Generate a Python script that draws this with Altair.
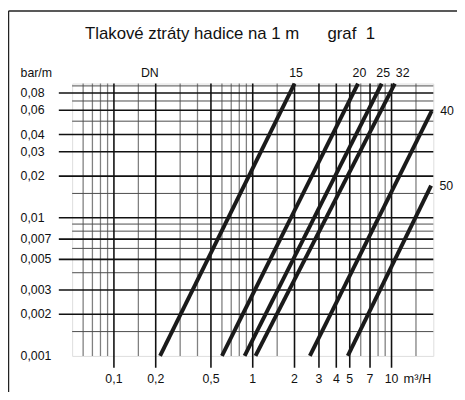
import altair as alt
import pandas as pd

# --- data ---
dn = ["15", "20", "25", "32", "40", "50"]
q_start = [0.215, 0.600, 0.874, 1.047, 2.58, 4.84]
q_end = [2.0, 5.73, 8.49, 10.56, 19.49, 19.27]
p_start = [0.001, 0.001, 0.001, 0.001, 0.001, 0.001]
p_end = [0.0936, 0.0936, 0.0936, 0.0936, 0.0594, 0.0171]

x_major = [0.1, 0.2, 0.5, 1, 2, 3, 4, 5, 7, 10]
x_minor = [0.06, 0.07, 0.08, 0.09, 0.15, 0.3, 0.4, 0.6, 0.7, 0.8, 0.9, 1.5, 6, 8, 9, 15]
y_labels = [0.001, 0.002, 0.003, 0.005, 0.007, 0.01, 0.02, 0.03, 0.04, 0.06, 0.08]
y_major = [0.002, 0.003, 0.005, 0.007, 0.01, 0.02, 0.03, 0.04, 0.06, 0.08]
y_minor = [0.0015, 0.004, 0.006, 0.008, 0.009, 0.015, 0.05, 0.07, 0.09]

W, H = 366, 276
FONT = "Liberation Sans"
INK = "#111111"

xs = alt.Scale(type="log", domain=[0.05, 20], nice=False)
ys = alt.Scale(type="log", domain=[0.001, 0.0936], nice=False)

rows = []
for i, d in enumerate(dn):
    rows.append({"dn": d, "q": q_start[i], "p": p_start[i], "o": 0})
    rows.append({"dn": d, "q": q_end[i], "p": p_end[i], "o": 1})
lines_df = pd.DataFrame(rows)
ends_df = pd.DataFrame({"dn": dn, "q": q_end, "p": p_end})
one = pd.DataFrame({"k": [0]})

lab_expr = "replace(format(datum.v, '~g'), '.', ',')"

xminor = alt.Chart(pd.DataFrame({"v": x_minor})).mark_rule(
    color="#808080", strokeWidth=1.3).encode(
    x=alt.X("v:Q", scale=xs, axis=None), y=alt.value(0), y2=alt.value(H))
yminor = alt.Chart(pd.DataFrame({"v": y_minor})).mark_rule(
    color="#4a4a4a", strokeWidth=1.0).encode(
    y=alt.Y("v:Q", scale=ys, axis=None), x=alt.value(0), x2=alt.value(W))
xmajor = alt.Chart(pd.DataFrame({"v": x_major})).mark_rule(
    color=INK, strokeWidth=1.6).encode(
    x=alt.X("v:Q", scale=xs, axis=None), y=alt.value(0), y2=alt.value(H + 12))
ymajor = alt.Chart(pd.DataFrame({"v": y_major})).mark_rule(
    color=INK, strokeWidth=1.6).encode(
    y=alt.Y("v:Q", scale=ys, axis=None), x=alt.value(-13.5), x2=alt.value(W))

xlab = alt.Chart(pd.DataFrame({"v": x_major})).transform_calculate(
    lab=lab_expr).mark_text(font=FONT, fontSize=12.5, color=INK,
                            align="center", baseline="middle").encode(
    x=alt.X("v:Q", scale=xs, axis=None), y=alt.value(H + 23.5), text="lab:N")
ylab = alt.Chart(pd.DataFrame({"v": y_labels})).transform_calculate(
    lab=lab_expr).mark_text(font=FONT, fontSize=12.5, color=INK,
                            align="left", baseline="middle").encode(
    y=alt.Y("v:Q", scale=ys, axis=None), x=alt.value(-52.3), text="lab:N")

curves = alt.Chart(lines_df).mark_line(color="#1a1a1a", strokeWidth=4, strokeCap="butt").encode(
    x=alt.X("q:Q", scale=xs, axis=None),
    y=alt.Y("p:Q", scale=ys, axis=None),
    detail="dn:N", order="o:Q")

def txt(s, x, y, size=12.5, align="left", baseline="middle"):
    return alt.Chart(one).mark_text(text=s, font=FONT, fontSize=size, color=INK,
                                    align=align, baseline=baseline).encode(
        x=alt.value(x), y=alt.value(y))

top_lbl = alt.Chart(ends_df).transform_filter(
    alt.FieldOneOfPredicate(field="dn", oneOf=["15", "20", "25"])).mark_text(
    font=FONT, fontSize=12.5, color=INK, align="center", baseline="middle", dx=1.5).encode(
    x=alt.X("q:Q", scale=xs, axis=None), y=alt.value(-10.3), text="dn:N")
lbl32 = alt.Chart(ends_df).transform_filter(alt.datum.dn == "32").mark_text(
    font=FONT, fontSize=12.5, color=INK, align="center", baseline="middle", dx=8).encode(
    x=alt.X("q:Q", scale=xs, axis=None), y=alt.value(-10.3), text="dn:N")
side_lbl = alt.Chart(ends_df).transform_filter(
    alt.FieldOneOfPredicate(field="dn", oneOf=["40", "50"])).mark_text(
    font=FONT, fontSize=12.5, color=INK, align="left", baseline="middle", dx=8.5).encode(
    x=alt.X("q:Q", scale=xs, axis=None), y=alt.Y("p:Q", scale=ys, axis=None), text="dn:N")

frame_l = alt.Chart(one).mark_rule(color="#222222", strokeWidth=1.5).encode(
    x=alt.value(-64.5), y=alt.value(-73.5), y2=alt.value(320))
frame_t = alt.Chart(one).mark_rule(color="#222222", strokeWidth=1.5).encode(
    x=alt.value(-64.5), x2=alt.value(400), y=alt.value(-73.5))

chart = alt.layer(
    xminor, yminor, xmajor, ymajor, curves, top_lbl, lbl32, side_lbl, xlab, ylab,
    txt("Tlakové ztráty hadice na 1 m", 13, -45.3, size=17, baseline="alphabetic"),
    txt("graf\u00a0 1", 258.7, -45.3, size=17, baseline="alphabetic"),
    txt("bar/m", -52.3, -10.3),
    txt("DN", 78.7, -10.3, align="center"),
    txt("m³/H", 364, H + 23.5, align="right", size=13),
    frame_l, frame_t,
).properties(
    width=W, height=H,
    padding={"left": 65, "top": 74, "right": 24, "bottom": 34},
    autosize=alt.AutoSizeParams(type="none"),
).configure_view(stroke="#666666", strokeWidth=1.2).configure(background="white")

chart.save("out.html", embed_options={"renderer": "svg", "actions": False})
